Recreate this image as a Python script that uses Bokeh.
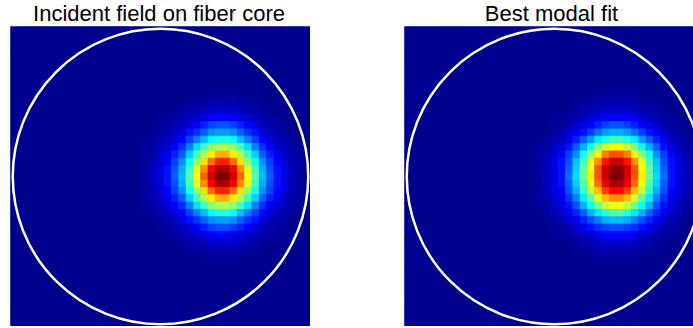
import math
from bokeh.plotting import figure
from bokeh.layouts import row, column
from bokeh.models import Range1d, ColumnDataSource
from bokeh.core.properties import value
from bokeh.transform import linear_cmap
from bokeh.embed import file_html
from bokeh.resources import INLINE

# ---- data ----
titles = ["Incident field on fiber core", "Best modal fit"]
n_cells = 41
core_radius = 0.985

# column profiles (index 0 = left), row profiles (index 0 = top)
incident_cols = [0]*17 + [0.01, 0.03, 0.05, 0.09, 0.14, 0.21, 0.31, 0.45, 0.61, 0.77, 0.91, 0.99,
                          0.99, 0.91, 0.77, 0.61, 0.45, 0.31, 0.21, 0.14, 0.09, 0.05, 0.03, 0.01]
incident_rows = [0]*8 + [0.01, 0.02, 0.04, 0.07, 0.12, 0.19, 0.28, 0.40, 0.55, 0.70, 0.84, 0.95, 1.00,
                         0.95, 0.84, 0.70, 0.55, 0.40, 0.28, 0.19, 0.12, 0.07, 0.04, 0.02, 0.01] + [0]*8
fit_cols = [0]*17 + [0.01, 0.03, 0.05, 0.09, 0.14, 0.22, 0.33, 0.47, 0.63, 0.79, 0.92, 0.99,
                     0.99, 0.92, 0.79, 0.63, 0.47, 0.33, 0.22, 0.14, 0.09, 0.05, 0.03, 0.01]
fit_rows = [0]*8 + [0.01, 0.02, 0.04, 0.07, 0.12, 0.19, 0.29, 0.44, 0.62, 0.80, 0.92, 0.99, 1.00,
                    0.96, 0.87, 0.74, 0.60, 0.45, 0.31, 0.20, 0.12, 0.07, 0.04, 0.02, 0.01] + [0]*8

# title centres in page pixels
title_centers = [158.5, 551.0]


def jet(m=64):
    n = math.ceil(m / 4)
    u = [i / n for i in range(1, n + 1)] + [1.0] * (n - 1) + [i / n for i in range(n, 0, -1)]
    g0 = math.ceil(n / 2) - (1 if m % 4 == 1 else 0)
    J = [[0.0, 0.0, 0.0] for _ in range(m)]
    for k in range(len(u)):
        g = g0 + k + 1
        for ch, idx in ((0, g + n), (1, g), (2, g - n)):
            if 1 <= idx <= m:
                J[idx - 1][ch] = u[k]
    return ["#%02x%02x%02x" % tuple(int(round(c * 255)) for c in rgb) for rgb in J]


JET = jet(64)


def cells(cols, rows):
    step = 2.0 / n_cells
    xs, ys, vs = [], [], []
    for r, rv in enumerate(rows):
        for c, cv in enumerate(cols):
            xs.append(-1 + (c + 0.5) * step)
            ys.append(1 - (r + 0.5) * step)
            vs.append(rv * cv)
    return ColumnDataSource(dict(x=xs, y=ys, v=vs)), step


def panel(cols, rows, frame_w, border_left):
    scale = 150.0  # px per data unit
    p = figure(frame_width=frame_w, frame_height=300,
               x_range=Range1d(-1, -1 + frame_w / scale),
               y_range=Range1d(-1, 1),
               min_border_left=border_left, min_border_right=0,
               min_border_top=0, min_border_bottom=0,
               x_axis_location=None, y_axis_location=None,
               toolbar_location=None, output_backend="svg")
    p.grid.visible = False
    p.outline_line_color = None
    p.background_fill_color = JET[0]
    src, step = cells(cols, rows)
    cmap = linear_cmap("v", JET, 0, 1)
    p.rect(x="x", y="y", width=step, height=step, source=src,
           fill_color=cmap, line_color=cmap, line_width=0.8)
    p.circle(x=[0], y=[0], radius=core_radius, fill_color=None,
             line_color="white", line_width=2.5)
    return p


# title strip (y measured upward from the bottom of the strip, in px)
t = figure(frame_width=693, frame_height=26, x_range=Range1d(0, 693), y_range=Range1d(0, 26),
           min_border_left=0, min_border_right=0, min_border_top=0, min_border_bottom=0,
           x_axis_location=None, y_axis_location=None,
           toolbar_location=None, output_backend="svg")
t.grid.visible = False
t.outline_line_color = None
t.text(x=title_centers, y=[13.5, 13.5], text=titles, text_align="center",
       text_baseline="middle", text_font=value("Liberation Sans"),
       text_font_size="22px", text_color="black")

p1 = panel(incident_cols, incident_rows, 300, 10)
p2 = panel(fit_cols, fit_rows, 289, 94)

layout = column(t, row(p1, p2, spacing=0), spacing=0)
open("out.html", "w").write(file_html(layout, INLINE))
